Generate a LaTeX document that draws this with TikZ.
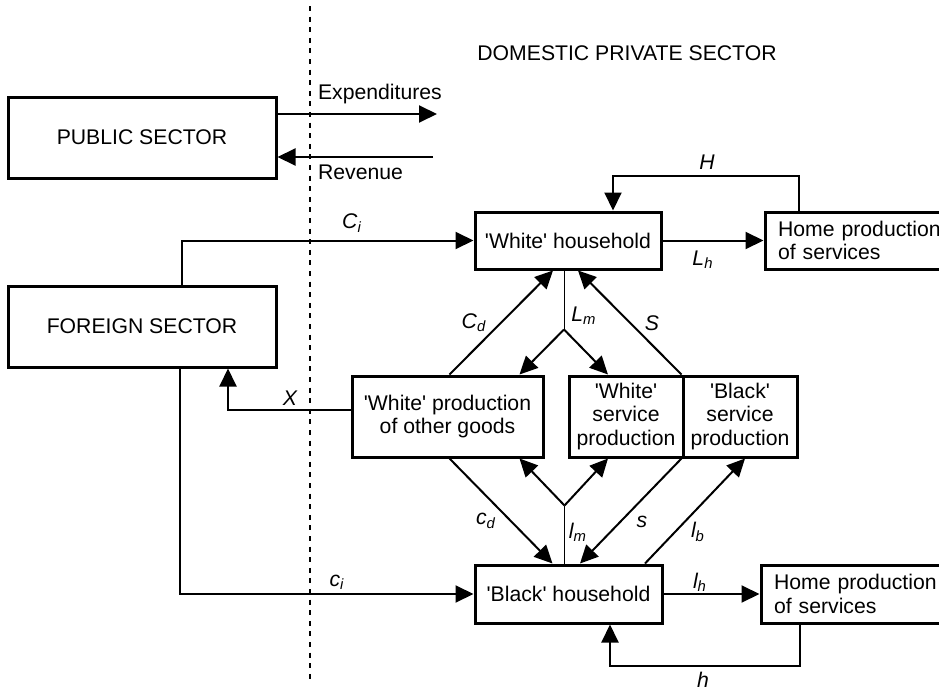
\documentclass[tikz,border=0pt]{standalone}
\usepackage{fontspec}
\setmainfont{Liberation Sans}
\usetikzlibrary{arrows.meta, calc}

\newcommand{\flow}[2]{\textit{#1}\textsubscript{\textit{#2}}}
\newcommand{\sq}[1]{\textquotesingle #1\textquotesingle}

\begin{document}
\begin{tikzpicture}[
    x=0.5pt, y=-0.5pt,
    every node/.style={font=\fontsize{10.6}{11.8}\selectfont},
    box/.style={rectangle, draw, line width=1.5pt, align=center, inner sep=0pt},
    homebox/.style={box, align=left, text width=84pt, inner xsep=6.5pt, minimum height=28.5pt},
    arr/.style={-{Triangle[length=9pt, width=8.5pt]}, line width=1pt},
    lbl/.style={font=\fontsize{10.6}{11.8}\selectfont\itshape},
    border/.style={line width=1pt, dash pattern=on 2.5pt off 2.8pt}
]
  \useasboundingbox (0,0) rectangle (939,691);

  % border between sectors
  \draw[border] (310,6) -- (310,683);
  \node (dom) at (627,53) {DOMESTIC PRIVATE SECTOR};

  % sectors
  \node[box, minimum width=134pt, minimum height=40.5pt] (pub) at (142,137.5) {PUBLIC SECTOR};
  \node[box, minimum width=134pt, minimum height=40.5pt] (fore) at (142,326.5) {FOREIGN SECTOR};

  % households
  \node[box, minimum width=93pt, minimum height=28.5pt] (wh) at (568,240.5) {\sq{White} household};
  \node[box, minimum width=93.5pt, minimum height=29pt] (bh) at (568.5,594) {\sq{Black} household};
  \node[homebox] (hpw) at (862,240.5) {Home production\\of services};
  \node[homebox, minimum height=29pt] (hpb) at (858,594) {Home production\\of services};

  % production
  \node[box, minimum width=95.5pt, minimum height=40.5pt] (wpg) at (447.5,416.5) {\sq{White} production\\of other goods};
  \node[box, minimum width=57pt, minimum height=40.5pt] (wsp) at (626,416.5) {\sq{White}\\service\\production};
  \node[box, minimum width=57pt, minimum height=40.5pt] (bsp) at (740,416.5) {\sq{Black}\\service\\production};

  % public flows
  \coordinate (expend) at (437,114);
  \coordinate (rev) at (433,157);
  \draw[arr] (pub.east |- expend) -- (expend);
  \draw[arr] (rev) -- (pub.east |- rev);
  \node[anchor=west] (tExp) at (311,94) {Expenditures};
  \node[anchor=west] (tRev) at (311,172) {Revenue};

  % foreign flows
  \draw[arr] ([xshift=20pt]fore.north) |- (wh.west);
  \draw[arr] ([xshift=19pt]fore.south) |- (bh.west);
  \draw[arr] ([yshift=3.25pt]wpg.west) -| ([xshift=43pt]fore.south);
  \node[lbl] (tCi) at (352,223) {\flow{C}{i}};
  \node[lbl] (tci) at (337,582) {\flow{c}{i}};
  \node[lbl] (tX) at (290,398) {X};

  % home production
  \draw[arr] (wh.east) -- (hpw.west);
  \draw[arr] ([xshift=-31.5pt]hpw.north) -- ++(0,-35) -| ([xshift=22.5pt]wh.north);
  \draw[arr] (bh.east) -- (hpb.west);
  \draw[arr] ([xshift=-29pt]hpb.south) -- ++(0,41) -| ([xshift=20.75pt]bh.south);
  \node[lbl] (tLh) at (703,260) {\flow{L}{h}};
  \node[lbl] (tH) at (707,162) {H};
  \node[lbl] (tlh) at (700,582) {\flow{l}{h}};
  \node[lbl] (th) at (703,680) {h};

  % white side
  \draw[arr] ([xshift=1pt]wpg.north) -- ([xshift=-7.5pt]wh.south);
  \draw ([xshift=-2pt]wh.south) -- ++(0,59) coordinate (Lmsplit);
  \draw[arr] (Lmsplit) -- ([xshift=36pt]wpg.north);
  \draw[arr] (Lmsplit) -- ([xshift=-9pt]wsp.north);
  \draw[arr] (bsp.north west) -- ([xshift=5pt]wh.south);
  \node[lbl] (tCd) at (474,323) {\flow{C}{d}};
  \node[lbl] (tLm) at (584,316) {\flow{L}{m}};
  \node[lbl] (tS) at (652,323) {S};

  % black side
  \draw[arr] ([xshift=1pt]wpg.south) -- ([xshift=-8pt]bh.north);
  \draw ([xshift=-2pt]bh.north) -- ++(0,-58) coordinate (lmsplit);
  \draw[arr] (lmsplit) -- ([xshift=36pt]wpg.south);
  \draw[arr] (lmsplit) -- ([xshift=-9pt]wsp.south);
  \draw[arr] (bsp.south west) -- ([xshift=5.75pt]bh.north);
  \draw[arr] ([xshift=38.25pt]bh.north) -- ([xshift=2.5pt]bsp.south);
  \node[lbl] (tcd) at (486,521) {\flow{c}{d}};
  \node[lbl] (tlm) at (578,532) {\flow{l}{m}};
  \node[lbl] (ts) at (642,522) {s};
  \node[lbl] (tlb) at (698,532) {\flow{l}{b}};
\end{tikzpicture}
\end{document}
